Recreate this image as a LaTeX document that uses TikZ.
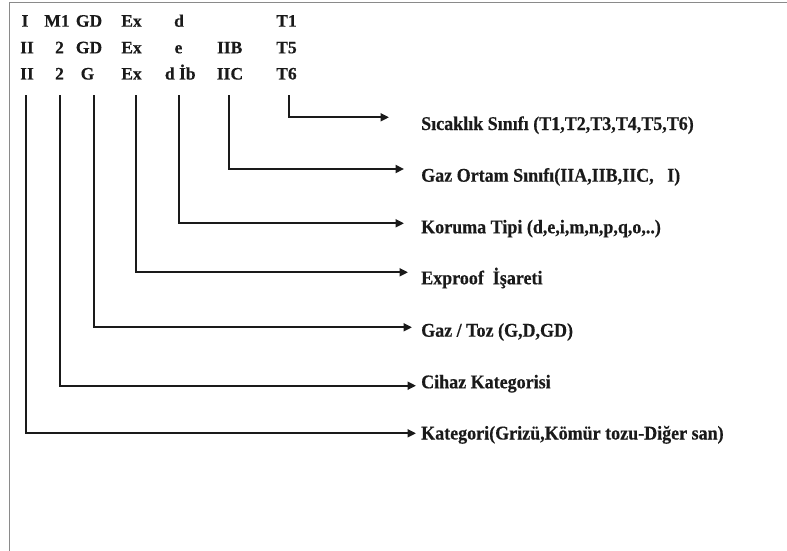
\documentclass[tikz,border=0pt]{standalone}
\usepackage{fontspec}
\setmainfont{Liberation Serif}[BoldFeatures={FakeBold=0.4}]
\usetikzlibrary{arrows.meta}
\definecolor{ink}{HTML}{1A1A1A}
\definecolor{framegray}{HTML}{8A8A8A}
\newcommand{\tallify}[1]{\scalebox{1}[1.08]{#1}}
\tikzset{
  code/.style={inner sep=0pt, anchor=base, text=ink, font=\fontsize{17.5}{20}\selectfont\bfseries},
  lbl/.style={inner sep=0pt, anchor=base west, text=ink, font=\fontsize{18}{20}\selectfont\bfseries},
  conn/.style={draw=ink, line width=2pt, -{Triangle[length=8.5pt,width=8pt]}},
  frameline/.style={draw=framegray, line width=1pt}
}
\begin{document}
\begin{tikzpicture}[x=1pt,y=-1pt]
\useasboundingbox (0,0) rectangle (787,551);
% frame
\coordinate (f1) at (787,3);
\coordinate (f2) at (9,3);
\coordinate (f3) at (9,551);
\draw[frameline] (f1) -- (f2) -- (f3);
% code rows
\node[code] (r1a) at (25,26.7) {I};
\node[code] (r1b) at (57,26.7) {M1};
\node[code] (r1c) at (89,26.7) {GD};
\node[code] (r1d) at (131.5,26.7) {Ex};
\node[code] (r1e) at (179,26.7) {d};
\node[code] (r1g) at (286.5,26.7) {T1};
\node[code] (r2a) at (27,53.3) {II};
\node[code] (r2b) at (59.5,53.3) {2};
\node[code] (r2c) at (89,53.3) {GD};
\node[code] (r2d) at (131.5,53.3) {Ex};
\node[code] (r2e) at (178.5,53.3) {e};
\node[code] (r2f) at (229.7,53.3) {IIB};
\node[code] (r2g) at (286.5,53.3) {T5};
\node[code] (r3a) at (27,79.5) {II};
\node[code] (r3b) at (59.5,79.5) {2};
\node[code] (r3c) at (87.5,79.5) {G};
\node[code] (r3d) at (131.5,79.5) {Ex};
\node[code] (r3e) at (180.3,79.5) {d İb};
\node[code] (r3f) at (230,79.5) {IIC};
\node[code] (r3g) at (286.5,79.5) {T6};
% line tops
\coordinate (cA) at (26,95);
\coordinate (cB) at (60,95);
\coordinate (cC) at (94,95);
\coordinate (cD) at (136,95);
\coordinate (cE) at (179,95);
\coordinate (cF) at (229,95);
\coordinate (cG) at (289,95);
% arrow tips
\coordinate (tG) at (389,117.3);
\coordinate (tF) at (404,169);
\coordinate (tE) at (404,223.3);
\coordinate (tD) at (408,272.3);
\coordinate (tC) at (412,327.3);
\coordinate (tB) at (416,385.7);
\coordinate (tA) at (416,433.3);
% labels
\node[lbl] (lG) at (421,130) {\tallify{Sıcaklık Sınıfı (T1,T2,T3,T4,T5,T6)}};
\node[lbl] (lF) at (421,181.7) {\tallify{Gaz Ortam Sınıfı(IIA,IIB,IIC,\ \ \ I)}};
\node[lbl] (lE) at (421,233.3) {\tallify{Koruma Tipi (d,e,i,m,n,p,q,o,..)}};
\node[lbl] (lD) at (421,284.3) {\tallify{Exproof\ \ İşareti}};
\node[lbl] (lC) at (421,336.7) {\tallify{Gaz / Toz (G,D,GD)}};
\node[lbl] (lB) at (421,388.3) {\tallify{Cihaz Kategorisi}};
\node[lbl] (lA) at (421,439.5) {\tallify{Kategori(Grizü,Kömür tozu-Diğer san)}};
% connectors
\draw[conn] (cG) |- (tG);
\draw[conn] (cF) |- (tF);
\draw[conn] (cE) |- (tE);
\draw[conn] (cD) |- (tD);
\draw[conn] (cC) |- (tC);
\draw[conn] (cB) |- (tB);
\draw[conn] (cA) |- (tA);
\end{tikzpicture}
\end{document}
